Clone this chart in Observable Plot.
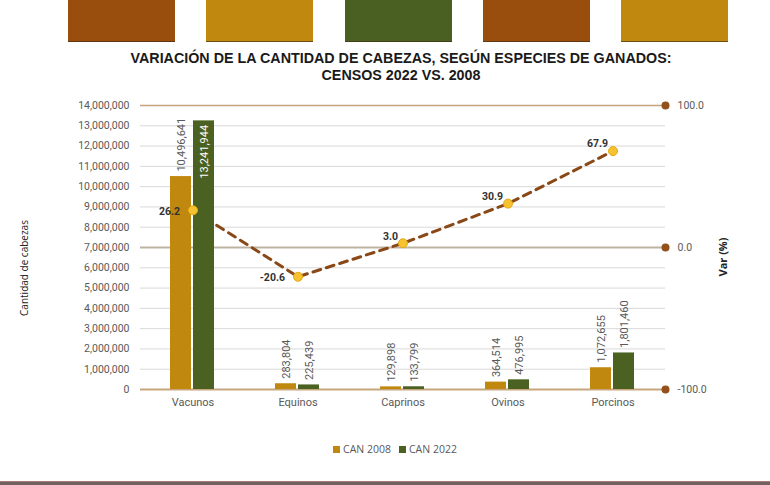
<!DOCTYPE html>
<html>
<head>
<meta charset="utf-8">
<script src="https://cdn.jsdelivr.net/npm/d3@7"></script>
<script src="https://cdn.jsdelivr.net/npm/@observablehq/plot@0.6"></script>
<style>
  html, body { margin: 0; padding: 0; background: #fff; }
  body { width: 770px; height: 485px; position: relative; overflow: hidden; font-family: "Open Sans", sans-serif; }
  .band { position: absolute; top: 0; height: 41px; width: 107px; border-bottom: 1px solid rgba(60,40,20,0.6); }
  #title { position: absolute; top: 50px; left: 0; width: 802px; text-align: center; font-family: "Liberation Sans", Arial, sans-serif; font-weight: bold; font-size: 14.3px; line-height: 17px; color: #1a1a1a; }
  #chart { position: absolute; top: 90px; left: 0; }
  #ylab { position: absolute; left: 24px; top: 268px; transform: translate(-50%, -50%) rotate(-90deg); white-space: nowrap; font-size: 10px; color: #222; }
  #y2lab { position: absolute; left: 722px; top: 257px; transform: translate(-50%, -50%) rotate(-90deg); white-space: nowrap; font-size: 11px; font-weight: bold; color: #222; }
  #legend { position: absolute; top: 442px; left: 0; width: 790px; text-align: center; font-size: 10.5px; color: #595959; }
  #legend span.sw { display: inline-block; width: 7px; height: 7px; margin-right: 3px; vertical-align: 0px; }
  #legend span.item { margin: 0 4px; }
  #bottom { position: absolute; left: 0; top: 481px; width: 770px; height: 3px; background: #716262; border-top: 1px solid #a87a70; }
</style>
</head>
<body>
<div id="banner"></div>
<div id="title">VARIACIÓN DE LA CANTIDAD DE CABEZAS, SEGÚN ESPECIES DE GANADOS:<br>CENSOS 2022 VS. 2008</div>
<div id="chart"></div>
<div id="ylab">Cantidad de cabezas</div>
<div id="y2lab">Var (%)</div>
<div id="legend"></div>
<div id="bottom"></div>
<script>
const categories = ["Vacunos", "Equinos", "Caprinos", "Ovinos", "Porcinos"];
const can2008 = [10496641, 283804, 129898, 364514, 1072655];
const can2022 = [13241944, 225439, 133799, 476995, 1801460];
const variation = [26.2, -20.6, 3.0, 30.9, 67.9];
const varTicks = [-100, 0, 100];
const seriesNames = ["CAN 2008", "CAN 2022"];
const bannerColors = ["#9a4e0d", "#c0880f", "#4a5f22", "#9a4e0d", "#c0880f"];

const C2008 = "#c0880f", C2022 = "#4b6121", LINE = "#8a4816";

// banner
const banner = document.getElementById("banner");
bannerColors.forEach((c, i) => {
  const d = document.createElement("div");
  d.className = "band";
  d.style.left = (68 + i * 138.3) + "px";
  d.style.background = c;
  banner.appendChild(d);
});

// legend
const legend = document.getElementById("legend");
[C2008, C2022].forEach((c, i) => {
  const s = document.createElement("span");
  s.className = "item";
  s.innerHTML = `<span class="sw" style="background:${c}"></span>${seriesNames[i]}`;
  legend.appendChild(s);
});

const rows = categories.map((cat, i) => ({cat, a: can2008[i], b: can2022[i], v: variation[i], i}));
const toY = v => 7e6 + v * 7e4; // right axis: -100..100 mapped onto 0..14M
const fmt = d3.format(",");
const gridVals = d3.range(1e6, 14e6, 1e6).filter(d => d !== 7e6);
const inside = d => d > 12e6;

const chart = Plot.plot({
  width: 770,
  height: 330,
  marginLeft: 140,
  marginRight: 105,
  marginTop: 15,
  marginBottom: 31,
  x: {domain: categories, padding: 0, label: null},
  y: {domain: [0, 14e6], label: null},
  style: {fontFamily: "Roboto, sans-serif", fontSize: "10.5px", color: "#595959", background: "transparent", overflow: "visible"},
  marks: [
    Plot.ruleY(gridVals, {stroke: "#d9d9d9", strokeWidth: 1}),
    Plot.ruleY([toY(0)], {stroke: "#bdb3a3", strokeWidth: 2.2}),
    Plot.ruleY([toY(100)], {stroke: "#c4a47f", strokeWidth: 1.6}),
    Plot.ruleY([toY(-100)], {stroke: "#c6a67f", strokeWidth: 2}),
    Plot.dot(varTicks, {y: toY, frameAnchor: "right", r: 4, fill: "#93501a"}),
    Plot.axisY({ticks: d3.range(0, 14e6 + 1, 1e6), tickFormat: fmt, tickSize: 0, tickPadding: 11, label: null}),
    Plot.axisY({anchor: "right", ticks: varTicks.map(toY), tickFormat: d => ((d - 7e6) / 7e4).toFixed(1), tickSize: 0, tickPadding: 12, label: null}),
    Plot.axisX({tickSize: 0, tickPadding: 9, label: null, fontSize: 11}),
    Plot.line(rows, {x: "cat", y: d => toY(d.v), stroke: LINE, strokeWidth: 3, strokeDasharray: "8,6"}),
    Plot.barY(rows, {x: "cat", y: "a", fill: C2008, insetLeft: 30, insetRight: 54}),
    Plot.barY(rows, {x: "cat", y: "b", fill: C2022, insetLeft: 53, insetRight: 31}),
    Plot.text(rows.filter(d => !inside(d.a)), {x: "cat", y: "a", text: d => fmt(d.a), rotate: -90, textAnchor: "start", dx: -11.5, dy: -5, fill: "#595959", fontSize: 11}),
    Plot.text(rows.filter(d => !inside(d.b)), {x: "cat", y: "b", text: d => fmt(d.b), rotate: -90, textAnchor: "start", dx: 11.5, dy: -5, fill: "#595959", fontSize: 11}),
    Plot.text(rows.filter(d => inside(d.b)), {x: "cat", y: "b", text: d => fmt(d.b), rotate: -90, textAnchor: "end", dx: 11.5, dy: 4, fill: "#ffffff", fontSize: 11}),
    Plot.dot(rows, {x: "cat", y: d => toY(d.v), r: 4.5, fill: "#f6c230", stroke: "#e5a912", strokeWidth: 1}),
    Plot.text(rows.filter(d => d.i < 2), {x: "cat", y: d => toY(d.v), text: d => d.v.toFixed(1), textAnchor: "end", dx: -13, dy: 1, fontWeight: "bold", fill: "#333", fontSize: 10.5}),
    Plot.text(rows.filter(d => d.i >= 2), {x: "cat", y: d => toY(d.v), text: d => d.v.toFixed(1), textAnchor: "end", dx: -5, dy: -7, fontWeight: "bold", fill: "#333", fontSize: 10.5})
  ]
});
document.getElementById("chart").appendChild(chart);
</script>
</body>
</html>
